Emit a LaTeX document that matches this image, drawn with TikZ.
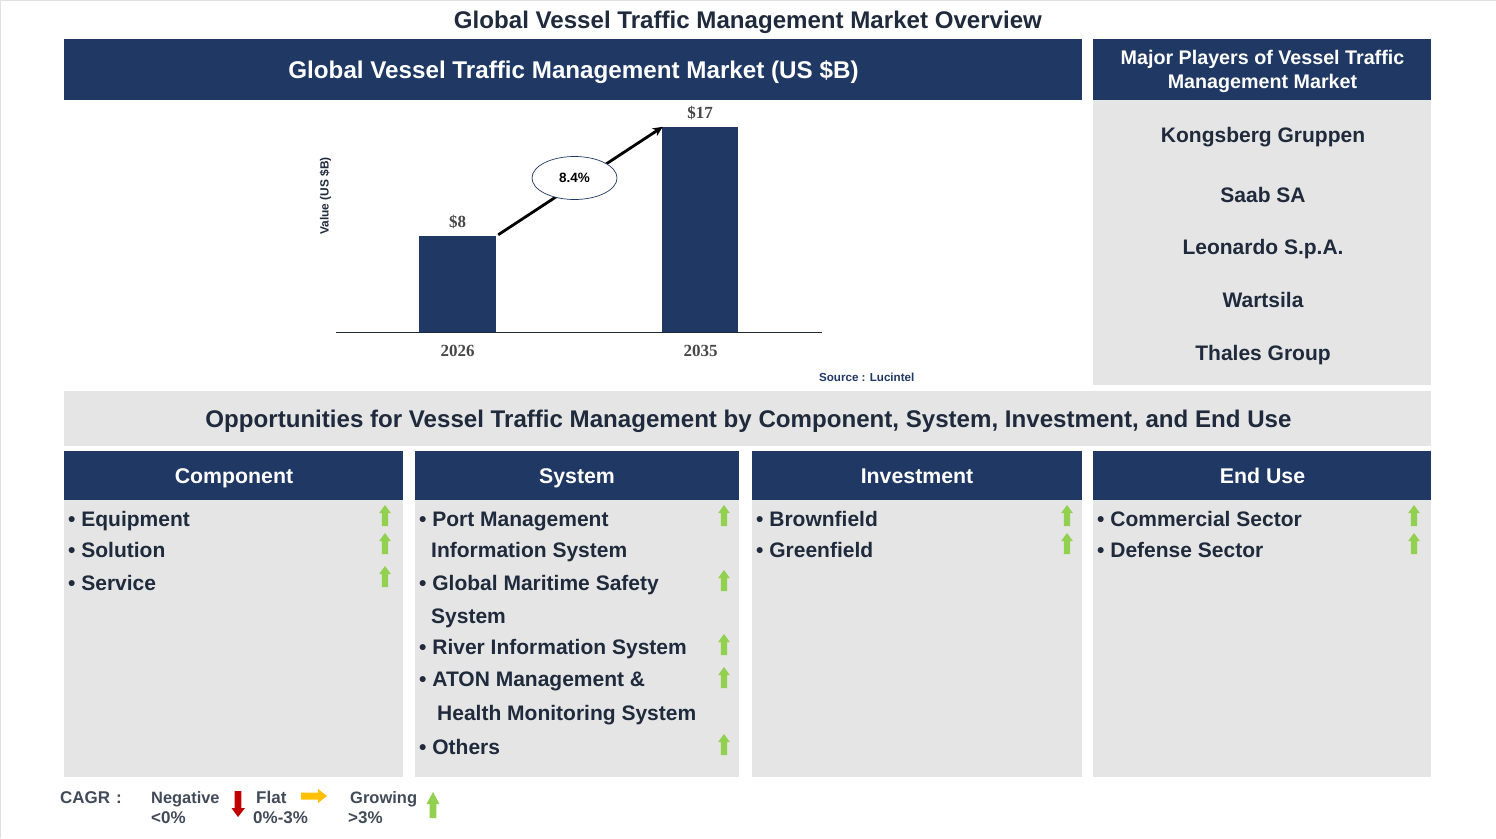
\documentclass[tikz,border=0pt]{standalone}
\usepackage{fontspec}
\setmainfont{Liberation Sans}
\newfontfamily\serifchart{Liberation Serif}
\usetikzlibrary{arrows.meta,shapes.geometric}
\definecolor{navy}{HTML}{1F3864}
\definecolor{panel}{HTML}{E5E5E5}
\definecolor{ink}{HTML}{1F2A3C}
\definecolor{upgreen}{HTML}{92D050}
\definecolor{flatamber}{HTML}{FFC000}
\definecolor{downred}{HTML}{C00000}
\newcommand{\fs}[1]{\fontsize{#1}{#1}\selectfont\bfseries}
% box: name, x1, y1, x2, y2, style
\newcommand{\pbox}[6]{\pgfmathsetmacro\pw{#4-#2}\pgfmathsetmacro\ph{#5-#3}%
  \node[#6,minimum width=\pw pt,minimum height=\ph pt] (#1) at ({(#2+#4)/2},{(#3+#5)/2}) {};}
\newcommand{\uparr}[2]{\fill[upgreen] (#1-3.2,#2+10) -- (#1-3.2,#2-3) -- (#1-5.8,#2-3) -- (#1,#2-11) -- (#1+5.8,#2-3) -- (#1+3.2,#2-3) -- (#1+3.2,#2+10) -- cycle;}
\tikzset{
  navybox/.style={fill=navy,inner sep=0pt},
  greybox/.style={fill=panel,inner sep=0pt},
  headtext/.style={anchor=base,text=white,font=\fs{21.3},inner sep=0pt},
  listtext/.style={anchor=base west,text=ink,font=\fs{21},inner sep=0pt},
  playertext/.style={anchor=base,text=ink,font=\fs{21},inner sep=0pt},
  charttext/.style={anchor=base,text=black!72,font=\serifchart\fs{17},inner sep=0pt},
  legendtext/.style={anchor=base west,text=ink!85!white,font=\fs{17},inner sep=0pt},
  barbox/.style={fill=navy,inner sep=0pt},
}
\begin{document}
\begin{tikzpicture}[x=1pt,y=-1pt]
\useasboundingbox (0,0) rectangle (1496,838);
\draw[black!12,line width=1pt] (0.5,838) -- (0.5,0.5) -- (1496,0.5);
\node[anchor=base,text=ink,font=\fs{24.1},inner sep=0pt] (title) at (748,28) {Global Vessel Traffic Management Market Overview};
\pbox{hmarket}{64}{39}{1082}{100}{navybox}
\node[headtext,font=\fs{24.2}] (hmarkett) at (573.5,78) {Global Vessel Traffic Management Market (US \$B)};
\pbox{hplayers}{1093}{39}{1431}{100}{navybox}
\node[headtext,font=\fs{19.7}] (hp1) at (1262.5,64.5) {Major Players of Vessel Traffic};
\node[headtext,font=\fs{19.7}] (hp2) at (1262.5,88.5) {Management Market};
\pbox{pplayers}{1093}{100}{1431}{385}{greybox}
\node[playertext] (p1) at (1263,142.5) {Kongsberg Gruppen};
\node[playertext] (p2) at (1263,202.5) {Saab SA};
\node[playertext] (p3) at (1263,254.5) {Leonardo S.p.A.};
\node[playertext] (p4) at (1263,307.5) {Wartsila};
\node[playertext] (p5) at (1263,360.5) {Thales Group};
% chart
\coordinate (axl) at (336,332.5);
\coordinate (axr) at (822,332.5);
\pbox{bara}{419}{236}{496}{332}{barbox}
\pbox{barb}{662}{127}{738}{332}{barbox}
\draw[ink,line width=1.2pt] (axl) -- (axr);
\node[charttext] (va) at (457.5,227) {\$8};
\node[charttext] (vb) at (700,118) {\$17};
\node[charttext] (ya) at (457.5,356) {2026};
\node[charttext] (yb) at (700.5,356) {2035};
\node[rotate=90,text=ink,font=\fs{11.9},inner sep=0pt] (yl) at (325.5,196) {Value (US \$B)};
\node[anchor=base east,text=navy,font=\fs{11.6},inner sep=0pt] (src) at (914.5,381) {Source : Lucintel};
\draw[black,line width=2.8pt,-{Stealth[length=10pt,width=9pt]}] ([shift={(2,-1)}]bara.north east) -- ([xshift=1pt]barb.north west);
\node[ellipse,draw=navy,fill=white,line width=0.7pt,minimum width=85pt,minimum height=43pt,inner sep=0pt,font=\fs{13.5},text=black] (cagr) at (574.5,178) {\raisebox{-0.7pt}{8.4\%}};
% opportunities
\pbox{opp}{64}{391}{1431}{446}{greybox}
\node[anchor=base,text=ink,font=\fs{24.1},inner sep=0pt] (oppt) at (748.5,427) {Opportunities for Vessel Traffic Management by Component, System, Investment, and End Use};
\pbox{hc1}{64}{451}{403}{500}{navybox}
\pbox{hc2}{415}{451}{739}{500}{navybox}
\pbox{hc3}{752}{451}{1082}{500}{navybox}
\pbox{hc4}{1093}{451}{1431}{500}{navybox}
\node[headtext] (t1) at (234,483.5) {Component};
\node[headtext] (t2) at (577,483.5) {System};
\node[headtext] (t3) at (917,483.5) {Investment};
\node[headtext] (t4) at (1262.5,483.5) {End Use};
\pbox{c1}{64}{500}{403}{777}{greybox}
\pbox{c2}{415}{500}{739}{777}{greybox}
\pbox{c3}{752}{500}{1082}{777}{greybox}
\pbox{c4}{1093}{500}{1431}{777}{greybox}
% lists
\node[listtext] (a1) at (68,526) {• Equipment};
\node[listtext] (a2) at (68,557) {• Solution};
\node[listtext] (a3) at (68,590) {• Service};
\node[listtext] (b1) at (419,526) {• Port Management};
\node[listtext] (b1b) at (431,557) {Information System};
\node[listtext] (b2) at (419,590) {• Global Maritime Safety};
\node[listtext] (b2b) at (431,623) {System};
\node[listtext] (b3) at (419,654) {• River Information System};
\node[listtext] (b4) at (419,686) {• ATON Management \&};
\node[listtext] (b4b) at (437,720) {Health Monitoring System};
\node[listtext] (b5) at (419,754) {• Others};
\node[listtext] (d1) at (756,526) {• Brownfield};
\node[listtext] (d2) at (756,557) {• Greenfield};
\node[listtext] (e1) at (1097,526) {• Commercial Sector};
\node[listtext] (e2) at (1097,557) {• Defense Sector};
\uparr{385}{516}\uparr{385}{544}\uparr{385}{577}
\uparr{724}{516}\uparr{724}{581}\uparr{724}{645}\uparr{724}{678}\uparr{724}{745}
\uparr{1067}{516}\uparr{1067}{544}
\uparr{1414}{516}\uparr{1414}{544}
% legend
\node[legendtext] (l0) at (60,803) {CAGR\hspace{6pt}:};
\node[legendtext,font=\fs{16.4}] (l1) at (151,803) {Negative};
\node[legendtext] (l1b) at (151,823) {<0\%};
\node[legendtext] (l2) at (256,803) {Flat};
\node[legendtext] (l2b) at (253,823) {0\%-3\%};
\node[legendtext,font=\fs{16.5}] (l3) at (350,803) {Growing};
\node[legendtext] (l3b) at (348,823) {>3\%};
\fill[downred] (234.7,791) -- (241.3,791) -- (241.3,808) -- (245,808) -- (238,817) -- (231.5,808) -- (234.7,808) -- cycle;
\fill[flatamber] (301,792.5) -- (318,792.5) -- (318,789) -- (327,796) -- (318,803) -- (318,799.5) -- (301,799.5) -- cycle;
\fill[upgreen] (429.7,818) -- (429.7,804) -- (426.5,804) -- (433,792) -- (439.5,804) -- (436.3,804) -- (436.3,818) -- cycle;
\end{tikzpicture}
\end{document}
